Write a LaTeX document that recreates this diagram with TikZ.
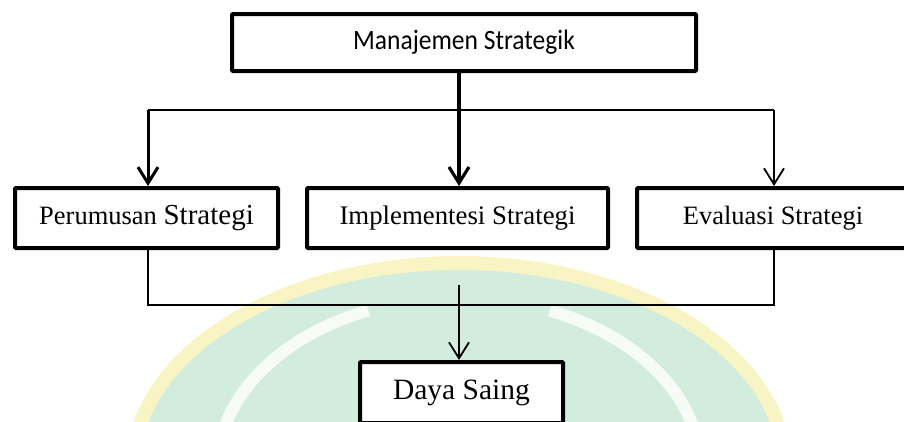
\documentclass[tikz,border=0pt]{standalone}
\usepackage{graphicx}
\usepackage{fontspec}
\setmainfont{Liberation Serif}
\newfontfamily\calibrifont{Carlito}
\usetikzlibrary{arrows.meta}
\definecolor{wmyellow}{RGB}{248,244,196}
\definecolor{wmgreen}{RGB}{210,237,221}
\begin{document}
\begin{tikzpicture}[x=1pt,y=-1pt,
  box/.style={draw=black, line width=4pt, fill=white, inner sep=0pt, minimum height=60pt, rounded corners=1pt},
  barb/.style={-{Straight Barb[length=16pt,width=20pt]}},
  ]
\useasboundingbox (0,0) rectangle (904,421);
\clip (0,0) rectangle (904,421);
% watermark (faint logo behind the diagram)
\fill[wmyellow] (459,470) ellipse [x radius=334, y radius=214];
\fill[wmgreen] (459,470) ellipse [x radius=320, y radius=200];
\draw[white, line width=12pt, opacity=0.8] plot[domain=112:165, samples=40] ({459+242*cos(\x)},{470-172*sin(\x)});
\draw[white, line width=12pt, opacity=0.8] plot[domain=15:68, samples=40] ({459+242*cos(\x)},{470-172*sin(\x)});
% boxes
\node[box, minimum width=464pt, minimum height=57pt] (ms) at (464,42.5) {\calibrifont\fontsize{25.5}{29}\selectfont\scalebox{1}[1.1]{Manajemen Strategik}};
\node[box, minimum width=263pt] (p1) at (146.5,218) {\fontsize{26.5}{30}\selectfont Perumusan \fontsize{29}{32}\selectfont Strategi};
\node[box, minimum width=301pt] (p2) at (457.5,218) {\fontsize{26.8}{30}\selectfont Implementesi Strategi};
\node[box, minimum width=272pt] (p3) at (773,218) {\fontsize{26.5}{30}\selectfont Evaluasi Strategi};
\node[box, minimum width=203pt, minimum height=61pt] (ds) at (461.5,392.5) {\fontsize{29.5}{32}\selectfont Daya Saing};
% junction coordinates
\coordinate (jl) at (148,110);
\coordinate (jc) at (459,110);
\coordinate (jr) at (774,110);
\coordinate (bl) at (148,305);
\coordinate (br) at (774,305);
\coordinate (bs) at (459,285);
% top connectors
\draw[line width=3.2pt, barb] (ms.south -| jc) -- (jc |- p2.north);
\draw[line width=2pt] (jl) -- (jr);
\draw[line width=3pt, barb] (jl) -- (jl |- p1.north);
\draw[line width=1.8pt, barb] (jr) -- (jr |- p3.north);
% bottom connectors
\draw[line width=2pt] (p1.south -| bl) -- (bl) -- (br) -- (p3.south -| br);
\draw[line width=1.8pt, barb] (bs) -- (bs |- ds.north);
\end{tikzpicture}
\end{document}
